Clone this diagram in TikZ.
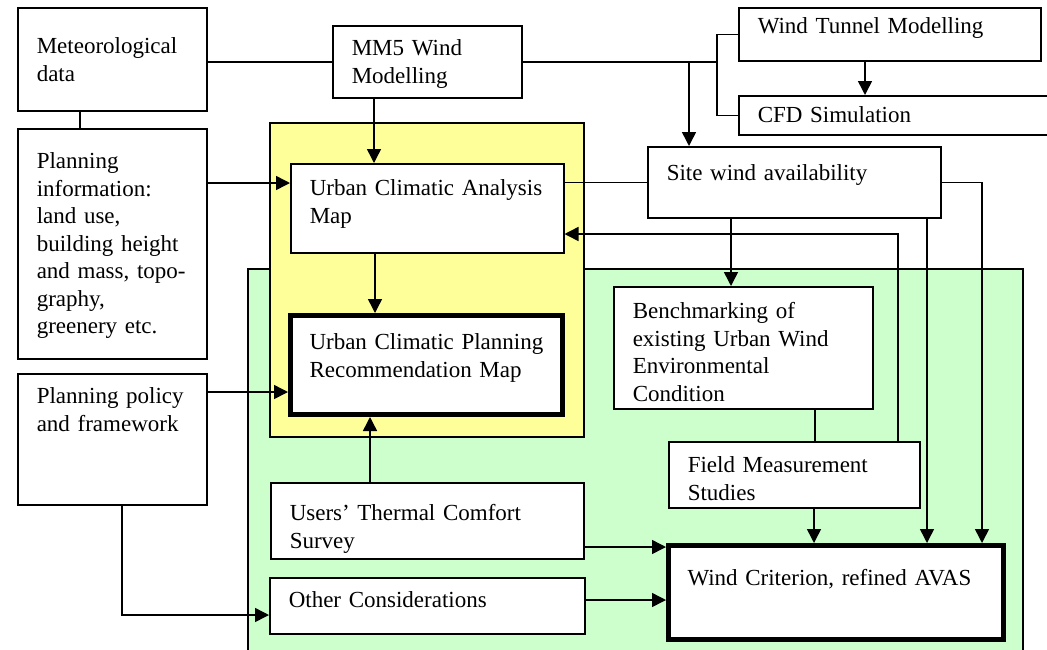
\documentclass[tikz,border=0pt]{standalone}
\usepackage{fontspec}
\setmainfont{Liberation Serif}
\usetikzlibrary{arrows.meta}
\definecolor{areagreen}{HTML}{CCFFCC}
\definecolor{areayellow}{HTML}{FFFF99}

\begin{document}
\begin{tikzpicture}[
x=1pt, y=-1pt,
line width=1.5pt,
block/.style={
draw,
fill=white,
anchor=north west,
align=left,
inner xsep=19pt,
inner ysep=0pt,
font=\fontsize{23}{27.5}\selectfont,
},
keyblock/.style={block, line width=5pt},
flow/.style={-{Triangle[length=14pt, width=14pt]}},
]

\useasboundingbox (0,0) rectangle (1047,649);
\clip (0,0) rectangle (1047,649);

% shaded areas
\draw [fill=areagreen] (248,269) rectangle (1023,700);
\draw [fill=areayellow] (270,123) rectangle (584,437);

% blocks
\node [block, text width=151pt, text height=46pt, text depth=57pt] (met) at (17,7)
{Meteorological\\data};
\node [block, text width=151pt, text height=40pt, text depth=190pt] (plinfo) at (17,128)
{Planning\\information:\\land use,\\building height\\and mass, topo-\\graphy,\\greenery etc.};
\node [block, text width=151pt, text height=30pt, text depth=101pt] (policy) at (17,373)
{Planning policy\\and framework};
\node [block, text width=151pt, text height=30pt, text depth=42pt] (mm5) at (332,25)
{MM5 Wind\\Modelling};
\node [block, text width=264pt, text height=26pt, text depth=27pt] (tunnel) at (738,7)
{Wind Tunnel Modelling};
\node [block, text width=300pt, text height=27pt, text depth=12pt] (cfd) at (738,95)
{CFD Simulation};
\node [block, text width=255pt, text height=34pt, text depth=37pt] (site) at (647,146)
{Site wind availability};
\node [block, text width=235pt, text height=32pt, text depth=57pt] (ucam) at (290,163)
{Urban Climatic Analysis\\Map};
\node [keyblock, text width=234pt, text height=34pt, text depth=65pt] (ucprm) at (288,313)
{Urban Climatic Planning\\Recommendation Map};
\node [block, text width=221pt, text height=32pt, text depth=90pt] (bench) at (613,286)
{Benchmarking of\\existing Urban Wind\\Environmental\\Condition};
\node [block, text width=213pt, text height=31pt, text depth=35pt] (field) at (668,441)
{Field Measurement\\Studies};
\node [block, text width=275pt, text height=38pt, text depth=38pt] (survey) at (270,482)
{Users’ Thermal Comfort\\Survey};
\node [block, text width=277pt, text height=30pt, text depth=26pt] (other) at (269,577)
{Other Considerations};
\node [keyblock, text width=297pt, text height=40pt, text depth=54pt] (wind) at (666,543)
{Wind Criterion, refined AVAS};

% wind data
\coordinate (split) at ([xshift=-21pt]tunnel.west |- mm5.east);
\draw (met.east |- mm5.west) -- (mm5.west);
\draw ([xshift=63pt]met.south west) -- ([xshift=63pt]met.south west |- plinfo.north);
\draw (mm5.east) -- (split);
\draw (tunnel.west) -| (split) |- (cfd.west);
\draw [flow] ([xshift=127pt]tunnel.south west) -- ([xshift=127pt]tunnel.south west |- cfd.north);
\draw [flow] ([xshift=42pt]site.north west |- mm5.east) -- ([xshift=42pt]site.north west);
\draw [flow] ([xshift=42pt]mm5.south west) -- ([xshift=42pt]mm5.south west |- ucam.north);

% planning side
\draw [flow] ([yshift=-20pt]ucam.north west -| plinfo.east) -- ([yshift=-20pt]ucam.north west);
\draw [flow] ([yshift=-79pt]ucprm.north west -| policy.east) -- ([yshift=-79pt]ucprm.north west);
\draw [flow] ([xshift=85pt]ucam.south west) -- ([xshift=85pt]ucam.south west |- ucprm.north);
\draw [flow] ([xshift=100pt]survey.north west) -- ([xshift=100pt]survey.north west |- ucprm.south);
\draw [flow] ([xshift=105pt]policy.south west) |- ([yshift=-38pt]other.north west);

% wind criterion side
\draw (ucam.east |- site.west) -- (site.west);
\draw [flow] ([xshift=118pt]bench.north west |- site.south) -- ([xshift=118pt]bench.north west);
\draw ([xshift=202pt]bench.south west) -- ([xshift=202pt]bench.south west |- field.north);
\draw [flow] ([xshift=230pt]field.north west) |- ([yshift=-71pt]ucam.north east);
\draw [flow] ([xshift=148pt]wind.north west |- field.south) -- ([xshift=148pt]wind.north west);
\draw [flow] ([xshift=261pt]wind.north west |- site.south) -- ([xshift=261pt]wind.north west);
\draw [flow] (site.east) -| ([xshift=316pt]wind.north west);
\draw [flow] ([yshift=-4pt]wind.north west -| survey.east) -- ([yshift=-4pt]wind.north west);
\draw [flow] ([yshift=-57pt]wind.north west -| other.east) -- ([yshift=-57pt]wind.north west);

\end{tikzpicture}
\end{document}
